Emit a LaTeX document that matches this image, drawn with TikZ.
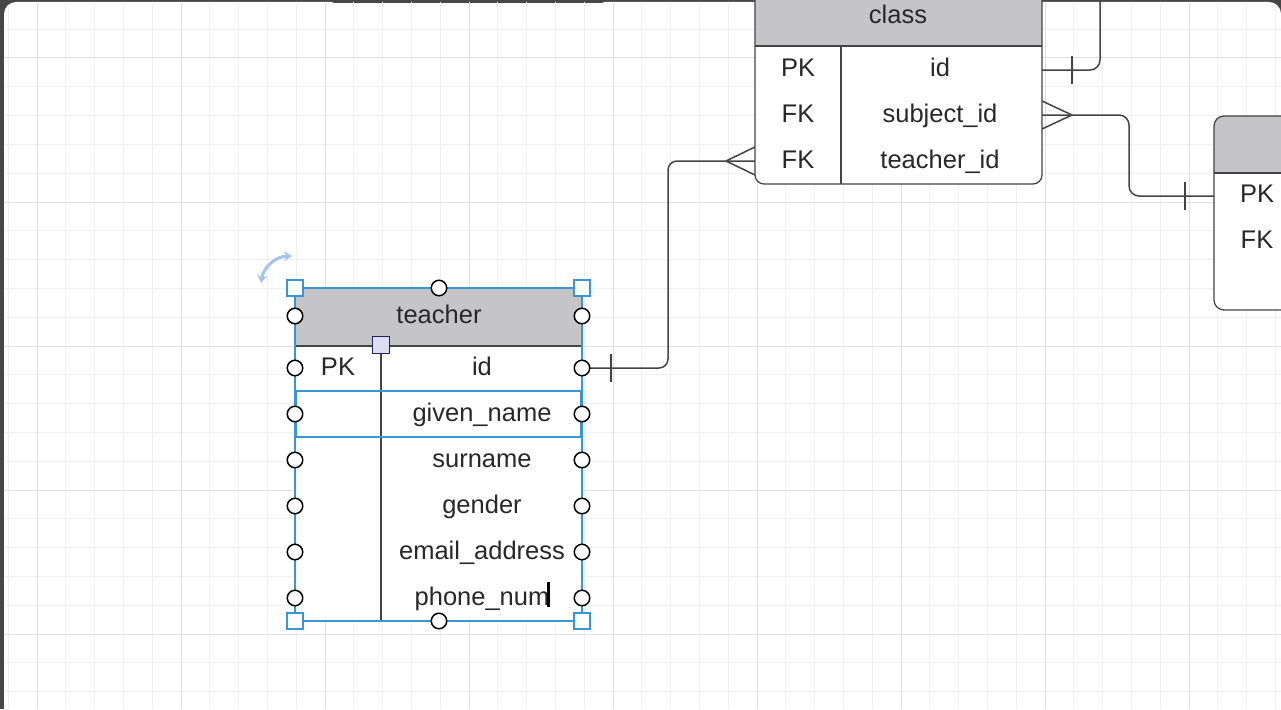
\documentclass[tikz,border=0pt]{standalone}
\usepackage{fontspec}
\setmainfont{Liberation Sans}
\usetikzlibrary{positioning,arrows.meta}
\definecolor{hdr}{RGB}{197,196,199}
\definecolor{ln}{RGB}{68,68,68}
\definecolor{txt}{RGB}{40,40,40}
\definecolor{sel}{RGB}{56,150,210}
\definecolor{navy}{RGB}{35,35,95}
\definecolor{lav}{RGB}{222,222,242}
\definecolor{rot}{RGB}{165,195,235}
\definecolor{gmin}{RGB}{240,240,240}
\definecolor{gmaj}{RGB}{224,224,224}
\definecolor{frm}{RGB}{70,70,70}
\newcommand{\hc}[1]{node[draw=black,fill=white,circle,inner sep=0pt,minimum size=15.5pt,line width=1.5pt](#1){}}
\newcommand{\hb}[1]{node[draw=sel,fill=white,inner sep=0pt,minimum size=16pt,line width=1.5pt](#1){}}
\newcommand{\many}[2]{\draw[conn] (#1) ++(#2,0) -- ++({-(#2)},-14) ++(#2,14) -- ++({-(#2)},14);}
\newcommand{\one}[2]{\draw[conn] (#1) ++(#2,-14) -- ++(0,28);}

\begin{document}
\begin{tikzpicture}[x=1pt,y=-1pt,font=\fontsize{25.5}{30}\selectfont,
  conn/.style={ln,line width=1.5pt},
  tline/.style={ln,line width=1.3pt},
  fld/.style={text=txt,text height=18pt,text depth=0pt,inner sep=0pt}]
\useasboundingbox (0,0) rectangle (1281,709);
\clip (0,0) rectangle (1281,709);
\fill[frm] (0,0) rectangle (1281,709);
\fill[white,rounded corners=12pt] (4,2) rectangle (1281,730);
\fill[gray!55!black,rounded corners=2pt] (332,-3) rectangle (604,3);
\begin{scope}
  \clip[rounded corners=12pt] (4,2) rectangle (1281,730);
  \foreach \k in {0,...,44} \draw[gmin,line width=1pt] (8.2+28.8*\k,0) -- ++(0,709);
  \foreach \k in {0,...,25} \draw[gmin,line width=1pt] (0,0.4+28.8*\k) -- ++(1281,0);
  \foreach \k in {0,...,8} \draw[gmaj,line width=1pt] (37+144*\k,0) -- ++(0,709);
  \foreach \k in {0,...,4} \draw[gmaj,line width=1pt] (0,58+144*\k) -- ++(1281,0);
\end{scope}

\coordinate (tid) at (582,368);
\coordinate (cteach) at (755,161);
\coordinate (bend1) at (668,260);
\draw[conn,rounded corners=9pt] (tid) -| (bend1) |- (cteach);
\one{tid}{29}
\many{cteach}{-29}
\coordinate (cid) at (1042,70);
\coordinate (top) at (1100,-10);
\draw[conn,rounded corners=10pt] (cid) -| (top);
\one{cid}{30}
\coordinate (csub) at (1042,115);
\coordinate (spk) at (1214,196);
\coordinate (bend2) at (1129,150);
\draw[conn,rounded corners=10pt] (csub) -| (bend2) |- (spk);
\many{csub}{30}
\one{spk}{-29}

\begin{scope}
  \clip[rounded corners=9pt] (755,-20) rectangle (1042,184);
  \fill[white] (755,-20) rectangle (1042,184);
  \fill[hdr] (755,-20) rectangle (1042,46);
\end{scope}
\draw[tline,rounded corners=9pt] (755,-20) rectangle (1042,184);
\draw[tline] (755,46) -- (1042,46) (841,46) -- (841,184);
\node[fld] (class) at (898,15) {class};
\foreach \k/\f [count=\i] in {PK/id,FK/subject\_id,FK/teacher\_id}{
  \node[fld] (ck\i) at (798,21+46*\i) {\k};
  \node[fld] (cf\i) at (940,21+46*\i) {\f};}

\begin{scope}
  \clip[rounded corners=10pt] (1214,116) rectangle (1300,310);
  \fill[white] (1214,116) rectangle (1300,310);
  \fill[hdr] (1214,116) rectangle (1300,173);
\end{scope}
\draw[tline,rounded corners=10pt] (1214,116) rectangle (1300,310);
\draw[tline] (1214,173) -- (1300,173);
\node[fld] (sk1) at (1257,193) {PK};
\node[fld] (sk2) at (1257,239) {FK};

\fill[white] (295,288) rectangle (582,621);
\fill[hdr] (295,288) rectangle (582,346);
\draw[tline] (295,346) -- (582,346) (381,346) -- (381,621);
\node[fld] (teacher) at (439,314) {teacher};
\node[fld] (tk1) at (338,366) {PK};
\foreach \f [count=\i] in {id,given\_name,surname,gender,email\_address,phone\_num}
  \node[fld] (tf\i) at (482,320+46*\i) {\f};
\draw[sel,line width=1.6pt] (295,288) rectangle (582,621);
\draw[sel,line width=2.4pt] (296,391) rectangle (581,437);
\fill[black] (547,582) rectangle (550,607);
\path (439,288) \hc{hn} (439,621) \hc{hs};
\foreach \y [count=\i] in {316,368,414,460,506,552,598}
  \path (295,\y) \hc{hl\i} (582,\y) \hc{hr\i};
\path (295,288) \hb{c1} (582,288) \hb{c2} (295,621) \hb{c3} (582,621) \hb{c4};
\node[draw=navy,fill=lav,line width=1.6pt,inner sep=0pt,minimum size=17pt] (div) at (381,345) {};
\draw[rot,line width=3pt,{Stealth[length=8pt,width=10pt]}-{Stealth[length=8pt,width=10pt]}] (261,283) to[bend left=40] (292,256);
\end{tikzpicture}
\end{document}
